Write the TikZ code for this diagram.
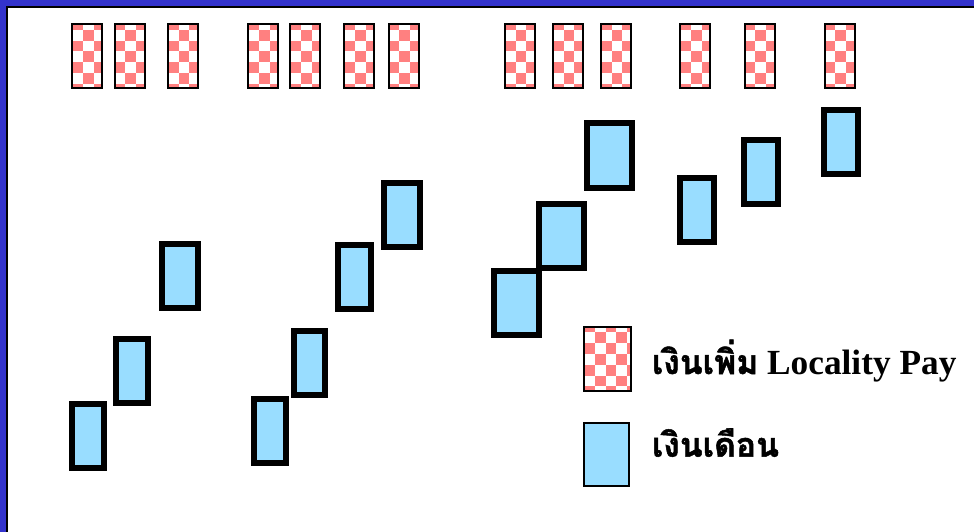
\documentclass[tikz,border=0pt]{standalone}
\usepackage{fontspec}
\setmainfont{Liberation Serif}
\newfontfamily\thaifont[Script=Thai, Scale=0.95, BoldFeatures={FakeBold=1.5}]{Loma}
\definecolor{slideblue}{RGB}{51,51,204}
\definecolor{salblue}{RGB}{153,221,255}
\definecolor{paypink}{RGB}{255,128,128}
\tikzset{
  checker/.style={path picture={
    \foreach \c in {0,...,4}
      \foreach \r in {0,...,6}{
        \pgfmathtruncatemacro\cellodd{mod(\c+\r,2)}
        \ifnum\cellodd=0
          \fill[paypink] ([shift={(\c*10.7pt,-\r*10.8pt+5.4pt)}]path picture bounding box.north west)
            rectangle ++(10.7pt,-10.8pt);
        \fi
      }}},
  locality/.style={draw, line width=2pt, fill=white, checker, inner sep=0pt,
    minimum width=30pt, minimum height=63.3pt},
  salary/.style={draw, line width=6pt, fill=salblue, inner sep=0pt, minimum height=64pt},
  legendtext/.style={anchor=base west, inner sep=0pt, font=\bfseries\fontsize{35.3}{41}\selectfont}
}
\begin{document}
\begin{tikzpicture}[x=1pt,y=-1pt]
  \useasboundingbox (0,0) rectangle (974,532);
  % Slide frame
  \fill[white] (0,0) rectangle (974,532);
  \fill[slideblue] (0,0) rectangle (974,5.7);
  \fill[slideblue] (0,0) rectangle (5.7,532);
  \fill[black] (5.7,5.7) rectangle (974,7.7);
  \fill[black] (5.7,5.7) rectangle (7.7,532);
  % Locality pay
  \foreach \x [count=\i] in {87.3,129.5,183,263.3,305.2,359.2,403.5,
                             519.8,567.8,615.8,695.3,759.5,839.7}{
    \node[locality] (lp\i) at (\x,56) {};
  }
  % Salary
  \foreach \x/\y/\w [count=\i] in {87.8/436/31.7, 132.3/371.3/32, 180/275.8/35.4,
                                   270.3/431/32, 309.5/362.7/31.6, 354.2/277.2/33, 402/214.7/35.4,
                                   516.3/302.7/44.7, 561.2/235.7/45, 609.5/155.5/45,
                                   697.2/210.3/34.3, 761.2/171.8/34.3, 841/142.2/34}{
    \node[salary, minimum width=\w pt] (sal\i) at (\x,\y) {};
  }
  % Legend
  \node[locality, minimum width=47pt, minimum height=64pt] (keylp) at (607.8,359) {};
  \node[draw, line width=2pt, fill=salblue, inner sep=0pt,
        minimum width=45pt, minimum height=63pt] (keysal) at (606.8,454.8) {};
  \node[legendtext] (keylptext) at (651.7,374) {{\thaifont เงินเพิ่ม} Locality Pay};
  \node[legendtext] (keysaltext) at (651.7,456.7) {\thaifont เงินเดือน};
\end{tikzpicture}
\end{document}
